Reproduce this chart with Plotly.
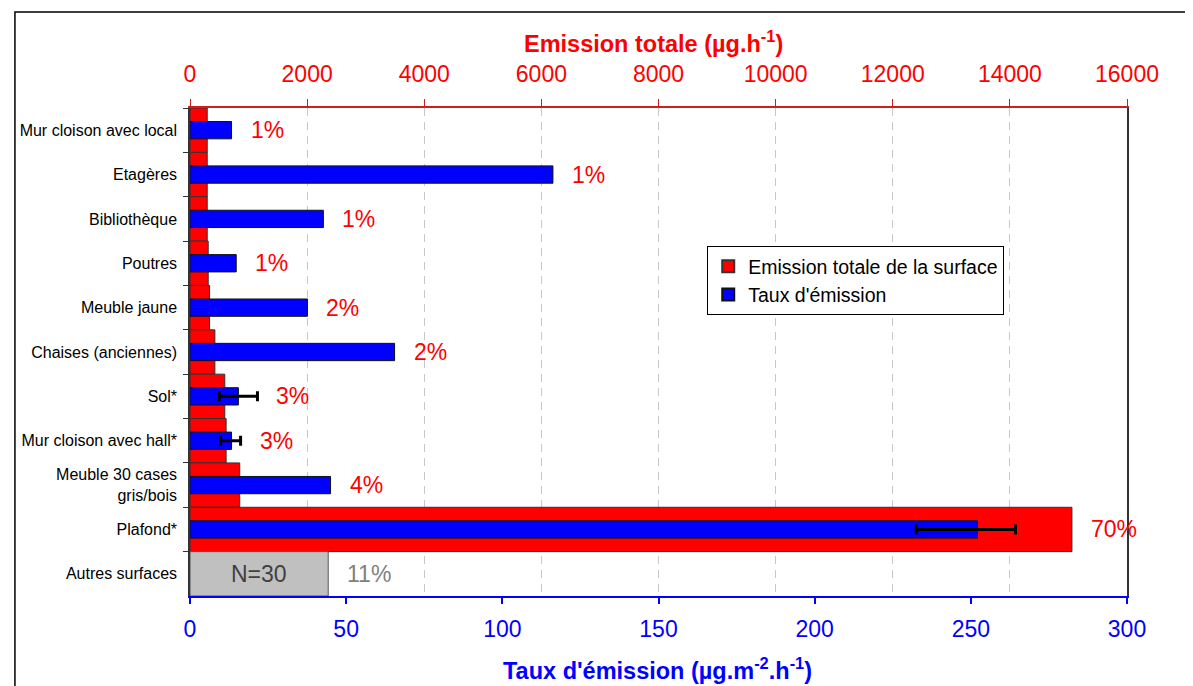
import plotly.graph_objects as go

categories = [
    "Mur cloison avec local",
    "Etagères",
    "Bibliothèque",
    "Poutres",
    "Meuble jaune",
    "Chaises (anciennes)",
    "Sol*",
    "Mur cloison avec hall*",
    "Meuble 30 cases<br>gris/bois",
    "Plafond*",
    "Autres surfaces",
]
# Emission totale de la surface (µg.h-1), top axis
emission_totale = [294, 294, 294, 311, 334, 425, 594, 617, 849, 15060, None]
# Autres surfaces (grey bar, top axis)
autres_value = 2360
autres_label = "N=30"
# Taux d'émission (µg.m-2.h-1), bottom axis
taux = [13.3, 116.2, 42.7, 14.8, 37.6, 65.5, 15.5, 13.3, 45.0, 252.1, None]
err_plus = [None, None, None, None, None, None, 6.1, 2.9, None, 12.2, None]
err_minus = [None, None, None, None, None, None, 6.1, 3.5, None, 19.6, None]
pct_labels = ["1%", "1%", "1%", "1%", "2%", "2%", "3%", "3%", "4%", "70%", "11%"]

TOP_MAX = 16000
BOT_MAX = 300
FONT = "Liberation Sans, Arial, sans-serif"

# page body has an 8px margin: figure is placed at (8, 8) in the window
OFF = 8
W, H = 1193 - OFF, 686 - OFF
PL, PR, PT, PB = 185, 1127, 108, 596   # plot area in window pixels
ML, MR, MT, MB = PL - OFF, W - (PR - OFF), PT - OFF, H - (PB - OFF)
PW, PH = PR - PL, PB - PT

fig = go.Figure()

fig.add_trace(go.Bar(
    y=categories, x=emission_totale, orientation="h", xaxis="x", yaxis="y",
    width=1.0, marker=dict(color="#ff0000", line=dict(color="#333333", width=1)),
    name="Emission totale de la surface", hoverinfo="skip",
))
fig.add_trace(go.Bar(
    y=[categories[-1]], x=[autres_value], orientation="h", xaxis="x", yaxis="y",
    width=1.0, marker=dict(color="#c0c0c0", line=dict(color="#555555", width=1)),
    showlegend=False, hoverinfo="skip",
))
fig.add_trace(go.Bar(
    y=categories, x=taux, orientation="h", xaxis="x2", yaxis="y",
    width=0.39, marker=dict(color="#0000ff", line=dict(color="#111111", width=1)),
    name="Taux d'émission", hoverinfo="skip",
))
idx = [i for i, e in enumerate(err_plus) if e is not None]
fig.add_trace(go.Scatter(
    y=[categories[i] for i in idx], x=[taux[i] for i in idx], xaxis="x2", yaxis="y",
    mode="markers", marker=dict(size=1, opacity=0), showlegend=False, hoverinfo="skip",
    error_x=dict(type="data", symmetric=False,
                 array=[err_plus[i] for i in idx], arrayminus=[err_minus[i] for i in idx],
                 color="black", thickness=3, width=5),
))

annotations = []
for i, cat in enumerate(categories):
    if i == len(categories) - 1:
        end = autres_value * BOT_MAX / TOP_MAX
        color = "#808080"
    else:
        end = taux[i] + (err_plus[i] or 0)
        end = max(end, emission_totale[i] * BOT_MAX / TOP_MAX)
        color = "#ff0000"
    annotations.append(dict(
        x=end, y=cat, xref="x2", yref="y", text=pct_labels[i], showarrow=False,
        xanchor="left", yanchor="middle", xshift=17,
        font=dict(family=FONT, size=23, color=color),
    ))
annotations.append(dict(
    x=autres_value / 2, y=categories[-1], xref="x", yref="y", text=autres_label,
    showarrow=False, xanchor="center", yanchor="middle",
    font=dict(family=FONT, size=23, color="#404040"),
))
annotations.append(dict(
    x=(651 - PL) / PW, y=(PB - 42) / PH, xref="paper", yref="paper",
    xanchor="center", yanchor="middle",
    text="<b>Emission totale (µg.h<sup>-1</sup>)</b>", showarrow=False,
    font=dict(family=FONT, size=23.5, color="#ff0000"),
))
annotations.append(dict(
    x=(655 - PL) / PW, y=(PB - 669) / PH, xref="paper", yref="paper",
    xanchor="center", yanchor="middle",
    text="<b>Taux d'émission (µg.m<sup>-2</sup>.h<sup>-1</sup>)</b>", showarrow=False,
    font=dict(family=FONT, size=23.5, color="#0000ff"),
))

fig.update_layout(
    width=W, height=H,
    margin=dict(l=ML, r=MR, t=MT, b=MB, pad=0),
    paper_bgcolor="white", plot_bgcolor="white",
    font=dict(family=FONT, color="black"),
    barmode="overlay",
    showlegend=True,
    legend=dict(x=(705 - PL) / PW, y=(PB - 246) / PH, xanchor="left", yanchor="top",
                bgcolor="white", bordercolor="black", borderwidth=1,
                font=dict(family=FONT, size=19.5, color="black"),
                itemsizing="constant", tracegroupgap=0),
    xaxis=dict(
        side="top", range=[0, TOP_MAX], dtick=2000, tickformat="d",
        tickfont=dict(family=FONT, size=23, color="#ff0000"),
        showline=True, linecolor="#cc2020", linewidth=2,
        ticks="outside", tickcolor="#cc2020", ticklen=7, tickwidth=1,
        ticklabelstandoff=8,
        showgrid=True, gridcolor="#c8c8c8", gridwidth=1, griddash="8px,6px",
        zeroline=False, anchor="y", fixedrange=True,
    ),
    xaxis2=dict(
        side="bottom", overlaying="x", range=[0, BOT_MAX], dtick=50,
        tickfont=dict(family=FONT, size=23, color="#0000ff"),
        showline=True, linecolor="#0000ff", linewidth=1.5,
        ticks="outside", tickcolor="#0000ff", ticklen=6, tickwidth=1.5,
        ticklabelstandoff=6,
        showgrid=False, zeroline=False, anchor="y", fixedrange=True,
    ),
    yaxis=dict(
        type="category", range=[10.5, -0.5],
        tickfont=dict(family=FONT, size=16, color="black"),
        showline=True, linecolor="#333333", linewidth=1.5, mirror=True,
        ticks="outside", tickson="boundaries", ticklen=5, tickcolor="#333333",
        ticklabelstandoff=8,
        showgrid=False, zeroline=False, fixedrange=True,
    ),
    annotations=annotations,
    shapes=[dict(type="rect", xref="paper", yref="paper",
                 x0=(9 - PL) / PW, x1=(1200 - PL) / PW,
                 y0=(PB - 700) / PH, y1=(PB - 12) / PH,
                 line=dict(color="black", width=1.5), fillcolor="rgba(0,0,0,0)",
                 layer="above")],
)

fig.write_html("out.html")
